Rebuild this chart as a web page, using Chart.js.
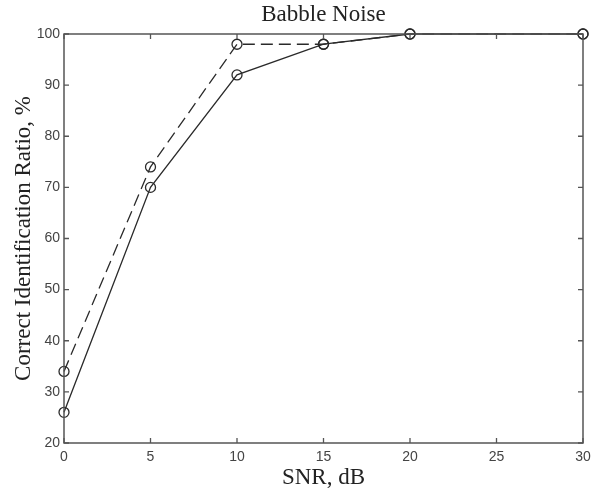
<!DOCTYPE html>
<html>
<head>
<meta charset="utf-8">
<script src="https://cdn.jsdelivr.net/npm/chart.js@4.4.0/dist/chart.umd.min.js"></script>
<style>
html,body{margin:0;padding:0;background:#fff;}
#wrap{width:599px;height:492px;}
</style>
</head>
<body>
<div id="wrap"><canvas id="c" width="599" height="492"></canvas></div>
<script>
const snr = [0, 5, 10, 15, 20, 30];
const solidSeries = [26, 70, 92, 98, 100, 100];
const dashedSeries = [34, 74, 98, 98, 100, 100];
const xTicks = [0, 5, 10, 15, 20, 25, 30];
const yTicks = [20, 30, 40, 50, 60, 70, 80, 90, 100];

const toPts = (ys) => snr.map((x, i) => ({x: x, y: ys[i]}));

const boxTicks = {
  id: 'boxTicks',
  afterDraw(chart) {
    const ctx = chart.ctx;
    const a = chart.chartArea;
    const xs = chart.scales.x, ys = chart.scales.y;
    ctx.save();
    ctx.strokeStyle = '#555';
    ctx.lineWidth = 1.5;
    ctx.strokeRect(a.left, a.top, a.right - a.left, a.bottom - a.top);
    ctx.lineWidth = 1.3;
    const L = 5;
    ctx.beginPath();
    xTicks.forEach(v => {
      const px = xs.getPixelForValue(v);
      ctx.moveTo(px, a.bottom); ctx.lineTo(px, a.bottom - L);
      ctx.moveTo(px, a.top); ctx.lineTo(px, a.top + L);
    });
    yTicks.forEach(v => {
      const py = ys.getPixelForValue(v);
      ctx.moveTo(a.left, py); ctx.lineTo(a.left + L, py);
      ctx.moveTo(a.right, py); ctx.lineTo(a.right - L, py);
    });
    ctx.stroke();
    ctx.restore();
  }
};

const serif = '"Liberation Serif", "Times New Roman", serif';
const sans = '"Liberation Sans", Arial, sans-serif';

new Chart(document.getElementById('c'), {
  type: 'line',
  data: {
    datasets: [
      {
        data: toPts(solidSeries),
        borderColor: '#2a2a2a',
        borderWidth: 1.3,
        pointRadius: 5,
        pointBorderWidth: 1.3,
        pointBorderColor: '#2a2a2a',
        pointBackgroundColor: 'rgba(0,0,0,0)',
        fill: false,
        tension: 0,
        clip: false
      },
      {
        data: toPts(dashedSeries),
        borderColor: '#2a2a2a',
        borderWidth: 1.3,
        borderDash: [12, 6],
        pointRadius: 5,
        pointBorderWidth: 1.3,
        pointBorderColor: '#2a2a2a',
        pointBackgroundColor: 'rgba(0,0,0,0)',
        fill: false,
        tension: 0,
        clip: false
      }
    ]
  },
  options: {
    responsive: false,
    animation: false,
    devicePixelRatio: 1,
    layout: {padding: {left: 0, right: 16, top: 0, bottom: 0}},
    plugins: {
      legend: {display: false},
      tooltip: {enabled: false},
      title: {display: false}
    },
    scales: {
      x: {
        type: 'linear',
        min: 0, max: 30,
        afterFit(s) { s.height = 49; },
        afterBuildTicks(s) { s.ticks = xTicks.map(v => ({value: v})); },
        ticks: {color: '#444', font: {family: sans, size: 14}, padding: 6, maxRotation: 0},
        grid: {display: false, drawTicks: false},
        border: {display: false},
        title: {
          display: true, text: 'SNR, dB', color: '#222',
          font: {family: serif, size: 23, weight: 'normal'},
          padding: {top: 0, bottom: 0}
        }
      },
      xTop: {
        type: 'linear',
        position: 'top',
        min: 0, max: 30,
        afterFit(s) { s.height = 34; },
        ticks: {display: false},
        grid: {display: false, drawTicks: false},
        border: {display: false},
        title: {
          display: true, text: 'Babble Noise', color: '#222',
          font: {family: serif, size: 23, weight: 'normal'},
          padding: {top: 1, bottom: 0}
        }
      },
      y: {
        type: 'linear',
        min: 20, max: 100,
        afterFit(s) { s.width = 64; },
        afterBuildTicks(s) { s.ticks = yTicks.map(v => ({value: v})); },
        ticks: {color: '#444', font: {family: sans, size: 14}, padding: 4},
        grid: {display: false, drawTicks: false},
        border: {display: false},
        title: {
          display: true, text: 'Correct Identification Ratio, %', color: '#222',
          font: {family: serif, size: 23, weight: 'normal'},
          padding: {top: 10, bottom: 0}
        }
      }
    }
  },
  plugins: [boxTicks]
});
</script>
</body>
</html>
